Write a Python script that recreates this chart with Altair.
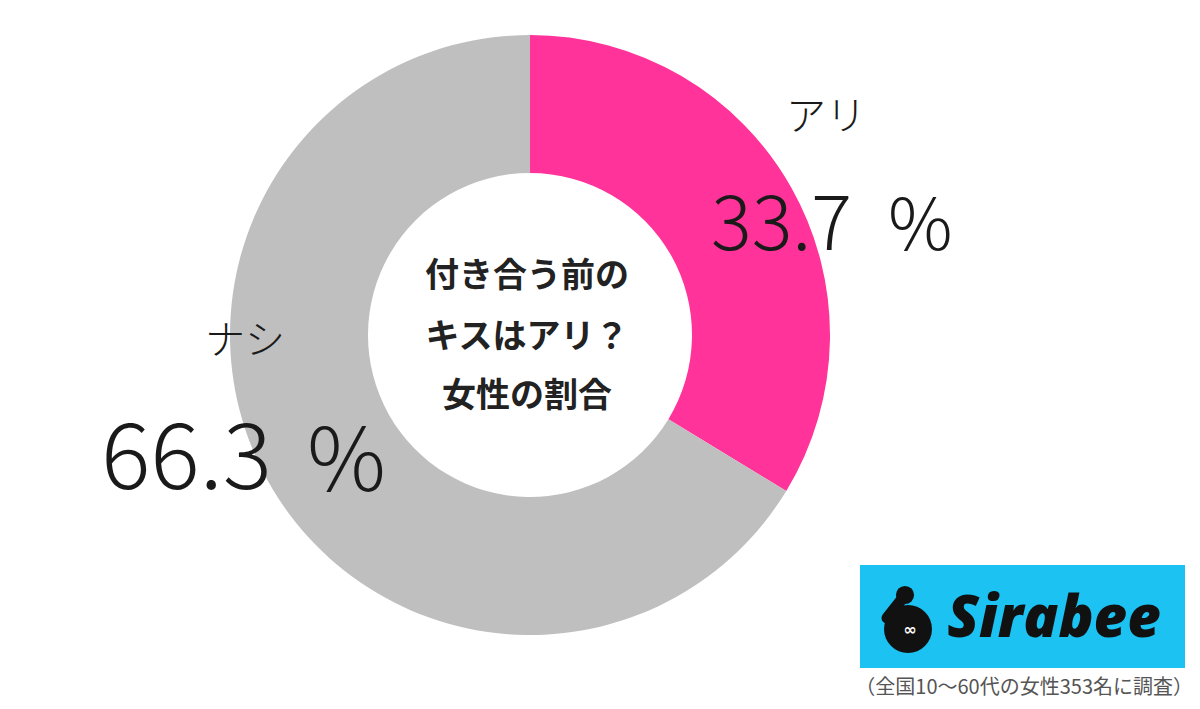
import altair as alt
import pandas as pd

categories = ["アリ", "ナシ"]
values = [33.7, 66.3]
colors = ["#FF3399", "#BFBFBF"]
center_lines = ["付き合う前の", "キスはアリ？", "女性の割合"]
footnote = "（全国10～60代の女性353名に調査）"
brand = "Sirabee"

W, H = 1200, 709
CX, CY = 530, 335

df = pd.DataFrame({"cat": categories, "value": values, "order": [0, 1]})

arc = alt.Chart(df).mark_arc(outerRadius=300, innerRadius=162, stroke=None).encode(
    theta=alt.Theta("value:Q", stack=True),
    order=alt.Order("order:Q"),
    color=alt.Color("cat:N", scale=alt.Scale(domain=categories, range=colors), legend=None),
    x=alt.value(CX), y=alt.value(CY),
)

font = "Noto Sans CJK JP"

def txt(text, x, y, size, weight="normal", color="#1a1a1a", align="center", baseline="middle", f=font, italic=False):
    return alt.Chart(pd.DataFrame({"t": [text]})).mark_text(
        font=f, fontSize=size, fontWeight=weight, color=color, align=align, baseline=baseline,
        fontStyle="italic" if italic else "normal",
    ).encode(text="t:N", x=alt.value(x), y=alt.value(y))

labels = [
    txt(categories[0], 826, 118, 40, weight=300),
    txt(f"{values[0]}", 852, 250, 76, weight=300, align="right", baseline="alphabetic"),
    txt("%", 888, 250, 72, weight=300, align="left", baseline="alphabetic"),
    txt(categories[1], 245, 342, 40, weight=300),
    txt(f"{values[1]}", 272, 489, 92, weight=300, align="right", baseline="alphabetic"),
    txt("%", 307, 491, 88, weight=300, align="left", baseline="alphabetic"),
]

center = [txt(line, 527, y, 34, weight="bold", color="#222222") for line, y in zip(center_lines, [277, 338, 397])]

one = pd.DataFrame({"a": [0]})
logo_box = alt.Chart(one).mark_rect(color="#1CC2F2").encode(
    x=alt.value(860), x2=alt.value(1185), y=alt.value(565), y2=alt.value(668)
)
logo_ball = alt.Chart(one).mark_point(filled=True, color="#111111", size=2300, opacity=1, shape="circle").encode(
    x=alt.value(908), y=alt.value(629)
)
logo_head = alt.Chart(one).mark_point(filled=True, color="#111111", size=330, opacity=1, shape="circle").encode(
    x=alt.value(905), y=alt.value(595)
)
logo_neck = alt.Chart(one).mark_rule(color="#111111", strokeWidth=11, strokeCap="round").encode(
    x=alt.value(902), x2=alt.value(887), y=alt.value(599), y2=alt.value(618)
)
logo_eye = alt.Chart(one).mark_text(text="∞", color="white", fontSize=16, font="DejaVu Sans", fontWeight="bold").encode(
    x=alt.value(910), y=alt.value(630)
)
logo_text = alt.Chart(pd.DataFrame({"t": [brand]})).mark_text(
    font="Open Sans", fontSize=58, fontWeight=800, fontStyle="italic", color="#111111", align="center", baseline="middle"
).encode(text="t:N", x=alt.value(1054), y=alt.value(620))

foot = txt(footnote, 1193, 688, 20, color="#555555", align="right")

chart = alt.layer(arc, *labels, *center, logo_box, logo_neck, logo_ball, logo_head, logo_eye, logo_text, foot).properties(
    width=W, height=H, autosize=alt.AutoSizeParams(type="none"), padding=0, background="white"
).configure_view(stroke=None)

chart.save("out.html", embed_options={"renderer": "svg", "actions": False})
